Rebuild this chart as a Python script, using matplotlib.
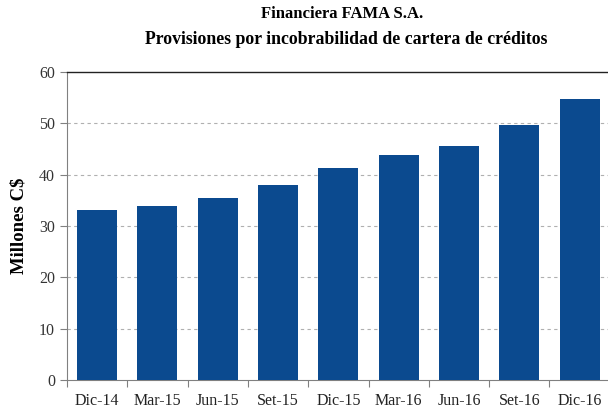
import matplotlib.pyplot as plt
import numpy as np

# quarterly provisions, millions C$
periodos = ['Dic-14', 'Mar-15', 'Jun-15', 'Set-15', 'Dic-15',
            'Mar-16', 'Jun-16', 'Set-16', 'Dic-16']
provisiones = [33.1, 33.9, 35.5, 38.0, 41.3, 43.9, 45.6, 49.7, 54.8]

plt.rcParams['font.family'] = ['Liberation Serif', 'DejaVu Serif']

fig = plt.figure(figsize=(6.08, 4.11), dpi=100)
ax = fig.add_axes([0.110, 0.0754, 0.893, 0.7496])

x = np.arange(len(periodos))
ax.bar(x, provisiones, width=0.66, color='#0b4a8f', zorder=3)

ax.set_xlim(-0.5, len(periodos) - 0.5)
ax.set_ylim(0, 60)
ax.set_yticks(np.arange(0, 61, 10))
for v in range(10, 60, 10):
    ax.axhline(v, color='#b0b0b0', lw=0.8, ls=(0, (3, 3)), zorder=1)

ax.set_xticks(x)
ax.set_xticklabels(periodos)
ax.set_xticks(np.arange(-0.5, len(periodos)), minor=True)
ax.tick_params(axis='x', which='major', length=0, pad=9, labelsize=11.5, labelcolor='#222222')
ax.tick_params(axis='x', which='minor', length=5, color='#808080', width=0.8)
ax.tick_params(axis='y', length=5, color='#808080', width=0.8, labelsize=11.5, labelcolor='#333333')

for s in ['left', 'bottom']:
    ax.spines[s].set_color('#808080')
    ax.spines[s].set_linewidth(0.8)
ax.spines['top'].set_color('#222222')
ax.spines['top'].set_linewidth(1.0)
ax.spines['right'].set_visible(False)

ax.set_ylabel('Millones C$', fontsize=13.5, fontweight='bold', labelpad=8)

fig.text(0.562, 0.965, 'Financiera FAMA S.A.', ha='center', va='center',
         fontsize=12, fontweight='bold')
fig.text(0.569, 0.903, 'Provisiones por incobrabilidad de cartera de créditos',
         ha='center', va='center', fontsize=12.8, fontweight='bold')

fig.savefig('out.png', dpi=100)
